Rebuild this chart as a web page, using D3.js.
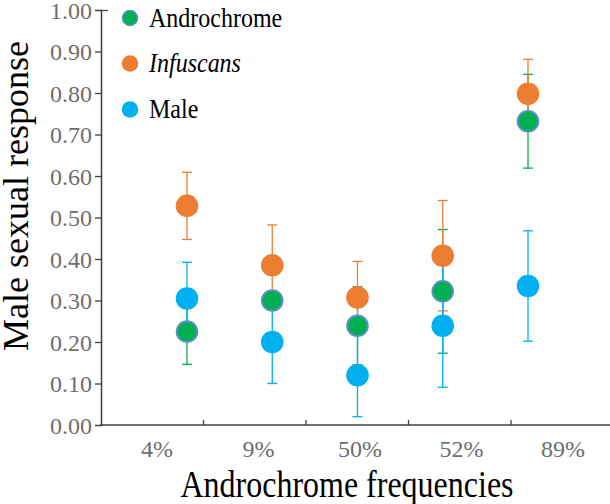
<!DOCTYPE html>
<html><head><meta charset="utf-8">
<script src="https://cdn.jsdelivr.net/npm/d3@7"></script>
<style>body{margin:0;background:#fff}</style>
</head><body>
<script>
const categories = ["4%", "9%", "50%", "52%", "89%"];
const seriesNames = ["Androchrome", "Infuscans", "Male"];
const androchrome = [0.225, 0.300, 0.239, 0.322, 0.732];
const androchromeErr = [0.079, 0.020, 0.094, 0.149, 0.113];
const infuscans = [0.528, 0.385, 0.307, 0.408, 0.798];
const infuscansErr = [0.081, 0.097, 0.087, 0.133, 0.083];
const male = [0.305, 0.200, 0.120, 0.239, 0.335];
const maleErr = [0.087, 0.100, 0.100, 0.148, 0.133];
const yTicks = [0, 0.1, 0.2, 0.3, 0.4, 0.5, 0.6, 0.7, 0.8, 0.9, 1.0];

const FONT = "Liberation Serif";
const colors = {Androchrome: "#00b050", Infuscans: "#ed7d31", Male: "#00b0f0"};
const W = 610, H = 504;
const svg = d3.select("body").append("svg").attr("width", W).attr("height", H)
  .attr("font-family", FONT);

const y = d3.scaleLinear().domain([0, 1]).range([425, 10]);
const xBand = d3.scaleBand().domain(categories).range([101, 613.5]);
const xLabel = d3.scalePoint().domain(categories).range([157, 563]);
const xPt = d3.scalePoint().domain(categories).range([187, 528]);

const series = [
  {name: "Androchrome", vals: androchrome, err: androchromeErr},
  {name: "Infuscans", vals: infuscans, err: infuscansErr},
  {name: "Male", vals: male, err: maleErr}
];

// Legend + titles first
const legY = [18, 63.5, 109.5];
seriesNames.forEach((n, i) => {
  svg.append("circle").attr("cx", 130).attr("cy", legY[i]).attr("r", n === "Androchrome" ? 7.5 : 8.3)
    .attr("fill", colors[n])
    .attr("stroke", n === "Androchrome" ? "#5a8fc8" : "none").attr("stroke-width", 1.6);
  svg.append("text").attr("transform", `translate(149,${legY[i] + 8.5}) scale(1,1.17)`)
    .attr("font-family", FONT).attr("font-size", 24)
    .attr("font-style", n === "Infuscans" ? "italic" : "normal")
    .attr("fill", "#000").text(n);
});
svg.append("text").attr("transform", "translate(347,497) scale(1,1.17)")
  .attr("text-anchor", "middle").attr("font-family", FONT).attr("font-size", 32)
  .text("Androchrome frequencies");
svg.append("text").attr("transform", "translate(28,196) rotate(-90)")
  .attr("text-anchor", "middle").attr("font-family", FONT).attr("font-size", 36)
  .text("Male sexual response");

// Y axis
const yAxis = svg.append("g").attr("transform", "translate(101,0)")
  .call(d3.axisLeft(y).tickValues(yTicks).tickFormat(d3.format(".2f")).tickSize(6).tickPadding(3));
yAxis.attr("font-family", FONT).attr("font-size", 24);
yAxis.select(".domain").attr("stroke", "#404040").attr("stroke-width", 1.5);
yAxis.selectAll(".tick line").attr("stroke", "#404040").attr("stroke-width", 1.3)
  .attr("x2", d => d === 1 ? 7 : (d === 0 ? 0 : -6));
yAxis.selectAll(".tick text").attr("fill", "#6e6e6e").attr("font-family", FONT).attr("dy", "0.34em");

// X axis
const xg = svg.append("g");
xg.append("line").attr("x1", 100.25).attr("x2", W).attr("y1", y(0)).attr("y2", y(0))
  .attr("stroke", "#404040").attr("stroke-width", 1.5);
xg.selectAll("line.xt").data(categories.slice(1)).join("line").attr("class", "xt")
  .attr("x1", d => xBand(d)).attr("x2", d => xBand(d))
  .attr("y1", y(0)).attr("y2", y(0) - 5)
  .attr("stroke", "#404040").attr("stroke-width", 1.3);
xg.selectAll("text").data(categories).join("text")
  .attr("x", d => xLabel(d)).attr("y", 457)
  .attr("text-anchor", "middle").attr("fill", "#6e6e6e")
  .attr("font-family", FONT).attr("font-size", 24)
  .text(d => d);

// Error bars (drawn in order: Androchrome, Infuscans, Male)
series.forEach(s => {
  const g = svg.append("g").attr("stroke", colors[s.name]).attr("stroke-width", 1.3);
  categories.forEach((c, i) => {
    const cx = xPt(c), hi = y(s.vals[i] + s.err[i]), lo = y(s.vals[i] - s.err[i]);
    g.append("line").attr("x1", cx).attr("x2", cx).attr("y1", hi).attr("y2", lo);
    g.append("line").attr("x1", cx - 5).attr("x2", cx + 5).attr("y1", hi).attr("y2", hi);
    g.append("line").attr("x1", cx - 5).attr("x2", cx + 5).attr("y1", lo).attr("y2", lo);
  });
});

// Points
series.forEach(s => {
  svg.append("g").selectAll("circle").data(categories).join("circle")
    .attr("cx", d => xPt(d)).attr("cy", (d, i) => y(s.vals[i]))
    .attr("r", s.name === "Androchrome" ? 10.3 : 11.3)
    .attr("fill", colors[s.name])
    .attr("stroke", s.name === "Androchrome" ? "#5a8fc8" : "none")
    .attr("stroke-width", s.name === "Androchrome" ? 2 : 0);
});
</script>
</body></html>
